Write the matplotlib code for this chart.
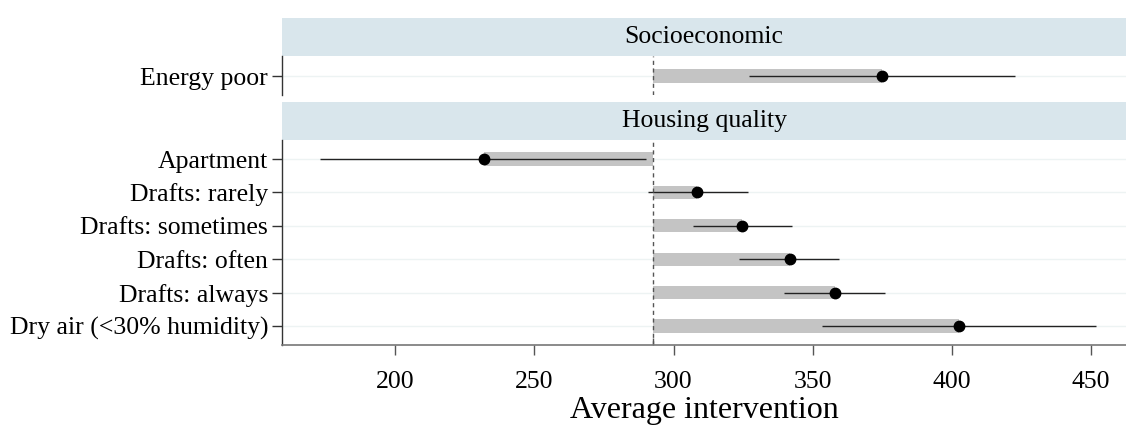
import matplotlib
matplotlib.use("Agg")
import matplotlib.pyplot as plt
from matplotlib.patches import Rectangle

plt.rcParams['font.family'] = ['Liberation Serif', 'DejaVu Serif']

# ---- data ----
ref_value = 292.5
panel_titles = ["Socioeconomic", "Housing quality"]
socio_labels = ["Energy poor"]
socio_est = [374.8]
socio_lo = [327.1]
socio_hi = [422.5]

housing_labels = ["Apartment", "Drafts: rarely", "Drafts: sometimes",
                  "Drafts: often", "Drafts: always", "Dry air (<30% humidity)"]
housing_est = [231.9, 308.6, 324.6, 341.7, 357.9, 402.6]
housing_lo = [173.2, 290.7, 306.9, 323.6, 339.7, 353.4]
housing_hi = [290.3, 326.7, 342.7, 359.4, 376.0, 451.9]

xticks = [200, 250, 300, 350, 400, 450]
xlim = (159.4, 462.5)
xlabel = "Average intervention"

W, H = 1126, 426
fig = plt.figure(figsize=(W / 100, H / 100), dpi=100)

def box(x0, y0, x1, y1):
    return [x0 / W, 1 - y1 / H, (x1 - x0) / W, (y1 - y0) / H]

strip_color = "#d9e6ec"
grid_color = "#edf3f3"
bar_color = "#c4c4c4"
FS = 18.5

def draw_panel(ax, labels, est, lo, hi, ylim):
    n = len(labels)
    ys = list(range(n))
    for y in ys:
        ax.axhline(y, color=grid_color, lw=1.0, zorder=0)
    lefts = [min(ref_value, e) for e in est]
    widths = [abs(e - ref_value) for e in est]
    ax.barh(ys, widths, left=lefts, height=0.40, color=bar_color, zorder=1)
    ax.hlines(ys, lo, hi, color="#222222", lw=1.0, zorder=2)
    ax.plot(est, ys, 'o', color="black", ms=7.5, zorder=3)
    ax.axvline(ref_value, color="#555555", lw=1.0, ls=(0, (3, 2.5)), zorder=2)
    ax.set_xlim(*xlim)
    ax.set_ylim(*ylim)
    ax.set_yticks(ys)
    ax.set_yticklabels(labels, fontsize=FS)
    ax.tick_params(axis='y', length=7, width=1, color="#333333", pad=3)
    for s in ["top", "right"]:
        ax.spines[s].set_visible(False)
    ax.spines["left"].set_color("#333333")
    ax.spines["left"].set_linewidth(1.0)

# strips
for (y0, y1), title in zip([(18, 56), (102, 140)], panel_titles):
    sax = fig.add_axes(box(282, y0, 1126, y1))
    sax.set_axis_off()
    sax.add_patch(Rectangle((0, 0), 1, 1, transform=sax.transAxes,
                            color=strip_color, zorder=0))
    sax.text(0.5, 0.5, title, transform=sax.transAxes, ha="center",
             va="center", fontsize=FS)

# panel 1
ax1 = fig.add_axes(box(282, 56, 1126, 95))
draw_panel(ax1, socio_labels, socio_est, socio_lo, socio_hi, (0.57, -0.60))
ax1.spines["bottom"].set_visible(False)
ax1.set_xticks([])

# panel 2
ax2 = fig.add_axes(box(282, 140, 1126, 345))
draw_panel(ax2, housing_labels, housing_est, housing_lo, housing_hi, (5.57, -0.57))
ax2.spines["bottom"].set_color("#777777")
ax2.spines["bottom"].set_linewidth(1.2)
ax2.set_xticks(xticks)
ax2.set_xticklabels([str(t) for t in xticks], fontsize=FS)
ax2.tick_params(axis='x', length=7, width=1, color="#555555", pad=12)
ax2.set_xticks([ref_value], minor=True)
ax2.tick_params(axis='x', which='minor', direction='in', length=5, width=1,
                color="#555555")
ax2.set_xlabel(xlabel, fontsize=23, labelpad=2)

fig.savefig("out.png", dpi=100)
